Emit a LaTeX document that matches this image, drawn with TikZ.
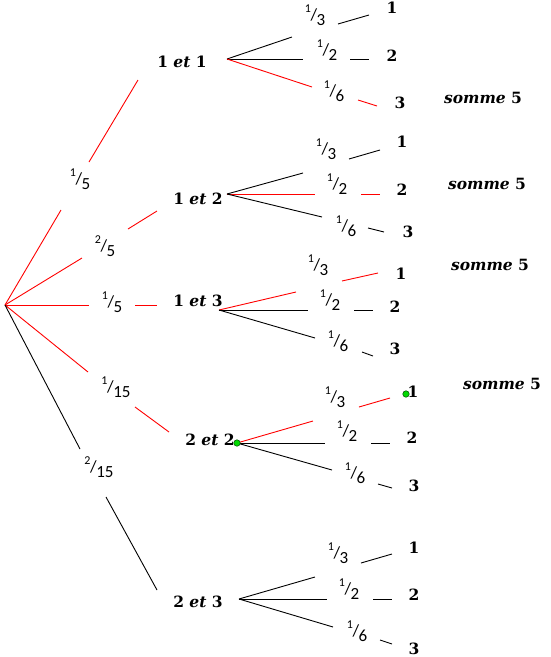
\documentclass[tikz,border=0pt]{standalone}
\usepackage{fontspec}
\setmainfont{DejaVu Serif}
\newfontfamily\fracfont{Carlito}
\newcommand{\fr}[2]{{\fracfont\fontsize{17}{17}\selectfont\raisebox{0.45em}{\fontsize{12}{12}\selectfont #1}\kern-0.3pt/\kern-0.5pt\raisebox{-0.3em}{#2}}}
\newcommand{\br}[9]{%
  \coordinate (#1e) at #3; \coordinate (#1s) at #6; \coordinate (#1t) at #7;
  \node[frac] (#1f) at #4 {#5};
  \draw[#8] (#2) -- (#1e); \draw[#9] (#1s) -- (#1t);}
\tikzset{
  lab/.style={font=\fontsize{15.5}{15.5}\selectfont\bfseries, inner sep=0pt},
  frac/.style={inner sep=0pt},
  rl/.style={draw=red, line width=0.9pt},
  bl/.style={draw=black, line width=0.9pt},
  gdot/.style={circle, fill=green!85!black, draw=black!70!green, line width=0.5pt, inner sep=0pt, minimum size=6.5pt}
}
\begin{document}
\begin{tikzpicture}[x=1pt,y=-1pt]
\useasboundingbox[fill=white] (0,0) rectangle (551,657);
\coordinate (r) at (5,305);
% level 1 nodes
\node[lab] (n11) at (182,62) {1 \textit{et} 1};
\node[lab] (n12) at (198,199) {1 \textit{et} 2};
\node[lab] (n13) at (198,301) {1 \textit{et} 3};
\node[lab] (n22) at (210,440) {2 \textit{et} 2};
\node[lab] (n23) at (198,602) {2 \textit{et} 3};
\br{a}{r}{(61,210)}{(80,179)}{\fr15}{(89,162)}{(138,80)}{rl}{rl}
\br{b}{r}{(82,258)}{(105,246)}{\fr25}{(128,229)}{(157,211)}{rl}{rl}
\br{c}{r}{(89,305)}{(112,302)}{\fr15}{(135,305)}{(157,305)}{rl}{rl}
\br{d}{r}{(88,372)}{(116,387)}{\fr1{15}}{(135,407)}{(169,432)}{rl}{rl}
\br{e}{r}{(80,449)}{(99,467)}{\fr2{15}}{(106,497)}{(157,590)}{bl}{bl}
% origins of level 2
\coordinate (o11) at (227,59);
\coordinate (o12) at (227,194);
\coordinate (o13) at (219,310);
\coordinate (o22) at (237,443);
\coordinate (o23) at (239,599);
% 1 et 1
\br{pa}{o11}{(292,37)}{(315,15)}{\fr13}{(338,24)}{(369,15)}{bl}{bl}
\br{pb}{o11}{(303,59)}{(327,50)}{\fr12}{(350,59)}{(369,59)}{bl}{bl}
\br{pc}{o11}{(312,87)}{(334,91)}{\fr16}{(358,100)}{(377,106)}{rl}{rl}
\node[lab] (t1a) at (392,8) {1};
\node[lab] (t1b) at (392,56) {2};
\node[lab] (t1c) at (400,103) {3};
\node[lab] (s1) at (483,98) {\textit{somme} 5};
% 1 et 2
\br{qa}{o12}{(303,173)}{(326,149)}{\fr13}{(349,159)}{(380,150)}{bl}{bl}
\br{qb}{o12}{(315,194)}{(337,184)}{\fr12}{(361,194)}{(380,194)}{rl}{rl}
\br{qc}{o12}{(322,217)}{(346,226)}{\fr16}{(368,228)}{(384,232)}{bl}{bl}
\node[lab] (t2a) at (402,142) {1};
\node[lab] (t2b) at (402,190) {2};
\node[lab] (t2c) at (408,232) {3};
\node[lab] (s2) at (487,184) {\textit{somme} 5};
% 1 et 3
\br{ua}{o13}{(296,292)}{(318,265)}{\fr13}{(342,281)}{(378,273)}{rl}{rl}
\br{ub}{o13}{(308,310)}{(330,300)}{\fr12}{(354,310)}{(373,310)}{bl}{bl}
\br{uc}{o13}{(315,338)}{(338,341)}{\fr16}{(362,352)}{(373,356)}{bl}{bl}
\node[lab] (t3a) at (401,274) {1};
\node[lab] (t3b) at (395,307) {2};
\node[lab] (t3c) at (395,349) {3};
\node[lab] (s3) at (490,265) {\textit{somme} 5};
% 2 et 2
\br{va}{o22}{(313,421)}{(335,397)}{\fr13}{(359,407)}{(390,398)}{rl}{rl}
\br{vb}{o22}{(325,443)}{(347,431)}{\fr12}{(371,443)}{(390,443)}{bl}{bl}
\br{vc}{o22}{(332,470)}{(355,473)}{\fr16}{(378,484)}{(392,488)}{bl}{bl}
\node[lab] (t4a) at (413,392) {1};
\node[lab] (t4b) at (412,438) {2};
\node[lab] (t4c) at (414,486) {3};
\node[lab] (s4) at (502,384) {\textit{somme} 5};
\node[gdot] (g1) at (o22) {};
\node[gdot] (g2) at (406,394) {};
% 2 et 3
\br{wa}{o23}{(315,577)}{(338,553)}{\fr13}{(361,563)}{(392,554)}{bl}{bl}
\br{wb}{o23}{(327,599)}{(349,589)}{\fr12}{(373,599)}{(392,599)}{bl}{bl}
\br{wc}{o23}{(333,627)}{(357,631)}{\fr16}{(380,640)}{(392,644)}{bl}{bl}
\node[lab] (t5a) at (414,548) {1};
\node[lab] (t5b) at (414,595) {2};
\node[lab] (t5c) at (414,648.5) {3};
\end{tikzpicture}
\end{document}
